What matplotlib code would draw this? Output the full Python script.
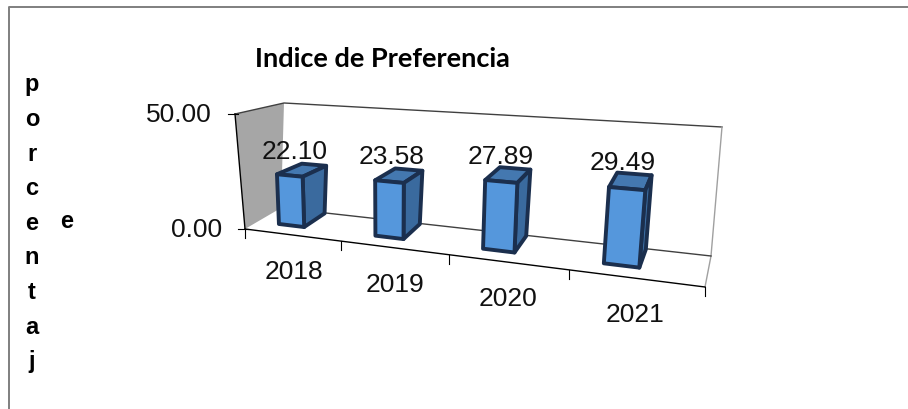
#!/bin/env python
''' indice de preferencia, fake 3d column chart '''
import matplotlib
matplotlib.use('Agg')
import matplotlib.pyplot as plt
from matplotlib.patches import Polygon
import numpy as np

years = ['2018', '2019', '2020', '2021']
values = [22.10, 23.58, 27.89, 29.49]
ymax = 50.0
axis_ticks = [0.0, 50.0]
axis_letters = ['p', 'o', 'r', 'c', 'e', 'n', 't', 'a', 'j']

# corners of the 3d box in pixels (x, y)  front/back, left/right, bottom/top
FLB = np.array([245., 229.])
FRB = np.array([705., 287.])
BLB = np.array([281., 208.])
BRB = np.array([711., 256.])
FLT = np.array([235., 114.])
FRT = np.array([719., 149.])
BLT = np.array([284., 103.])
BRT = np.array([722., 127.])


def warp(t):
    # categories get wider to the right
    return t / (1.257 - 0.257 * t)


def proj(t, d, v):
    u = warp(t)
    h = v / ymax
    fb = FLB + (FRB - FLB) * u
    bb = BLB + (BRB - BLB) * u
    ft = FLT + (FRT - FLT) * u
    bt = BLT + (BRT - BLT) * u
    bot = fb + (bb - fb) * d
    top = ft + (bt - ft) * d
    return bot + (top - bot) * h


fig = plt.figure(figsize=(9.08, 4.09), dpi=100)
ax = fig.add_axes([0, 0, 1, 1])
ax.set_xlim(0, 908)
ax.set_ylim(409, 0)
ax.axis('off')

# outer frame, only top and left are inside the picture
ax.plot([9, 9, 908], [409, 7, 7], color='#7f7f7f', lw=1.4)

# walls
ax.add_patch(Polygon([proj(0, 0, 0), proj(0, 1, 0), proj(0, 1, ymax), proj(0, 0, ymax)],
                     fc='#a6a6a6', ec='none'))
ax.plot(*zip(proj(0, 0, ymax), proj(0, 1, ymax), proj(1, 1, ymax)), color='#404040', lw=1.0)
ax.plot(*zip(proj(1, 1, ymax), proj(1, 1, 0), proj(1, 0, 0)), color='#a0a0a0', lw=1.0)
ax.plot(*zip(proj(0, 1, 0), proj(1, 1, 0)), color='#404040', lw=1.0)
ax.plot(*zip(proj(0, 0, 0), proj(1, 0, 0)), color='black', lw=1.0)
ax.plot(*zip(proj(0, 0, 0), proj(0, 0, ymax)), color='black', lw=1.0)

# ticks
for i in range(len(years) + 1):
    p = proj(i / len(years), 0, 0)
    ax.plot([p[0], p[0]], [p[1], p[1] + 9], color='black', lw=0.8)
for v in axis_ticks:
    p = proj(0, 0, v)
    ax.plot([p[0] - 7, p[0] + 3], [p[1], p[1]], color='black', lw=0.8)
    ax.text(p[0] - 23, p[1] + 1, '%.2f' % v, ha='right', va='center', fontsize=19,
            family='Liberation Sans', color='#111111')

# bars
hw = 0.034
d0, d1 = 0.36, 0.98
for i, v in enumerate(values):
    c = (i + 0.5) / len(years) - 0.033
    l, r = c - hw, c + hw
    ec = '#1b2f4e'
    top = [proj(l, d0, v), proj(r, d0, v), proj(r, d1, v), proj(l, d1, v)]
    side = [proj(r, d0, 0), proj(r, d1, 0), proj(r, d1, v), proj(r, d0, v)]
    front = [proj(l, d0, 0), proj(r, d0, 0), proj(r, d0, v), proj(l, d0, v)]
    for pts, col in ((top, '#4478b0'), (side, '#3a6a9e'), (front, '#5597dc')):
        ax.add_patch(Polygon(pts, fc=col, ec=ec, lw=2.8, joinstyle='round', zorder=3))
    mid = proj(c + 0.006, 0.7, v)
    ax.text(mid[0] - 11, mid[1] - 6, '%.2f' % v, ha='center', va='bottom', fontsize=19,
            family='Liberation Sans', color='#111111', zorder=4)
    lab = proj(c + 0.018, 0, 0)
    ax.text(lab[0] + 8, lab[1] + 38, years[i], ha='center', va='center', fontsize=19,
            family='Liberation Sans', color='#111111')

ax.text(382.5, 59, 'Indice de Preferencia', ha='center', va='center', fontsize=19.5,
        family='Lato', fontweight='bold', color='black')

for i, ch in enumerate(axis_letters):
    ax.text(32, 85 + i * 34.6, ch, ha='center', va='center', fontsize=17,
            family='Liberation Sans', fontweight='bold', color='black')
ax.text(67, 222, 'e', ha='center', va='center', fontsize=17,
        family='Liberation Sans', fontweight='bold', color='black')

fig.savefig('out.png', dpi=100)
